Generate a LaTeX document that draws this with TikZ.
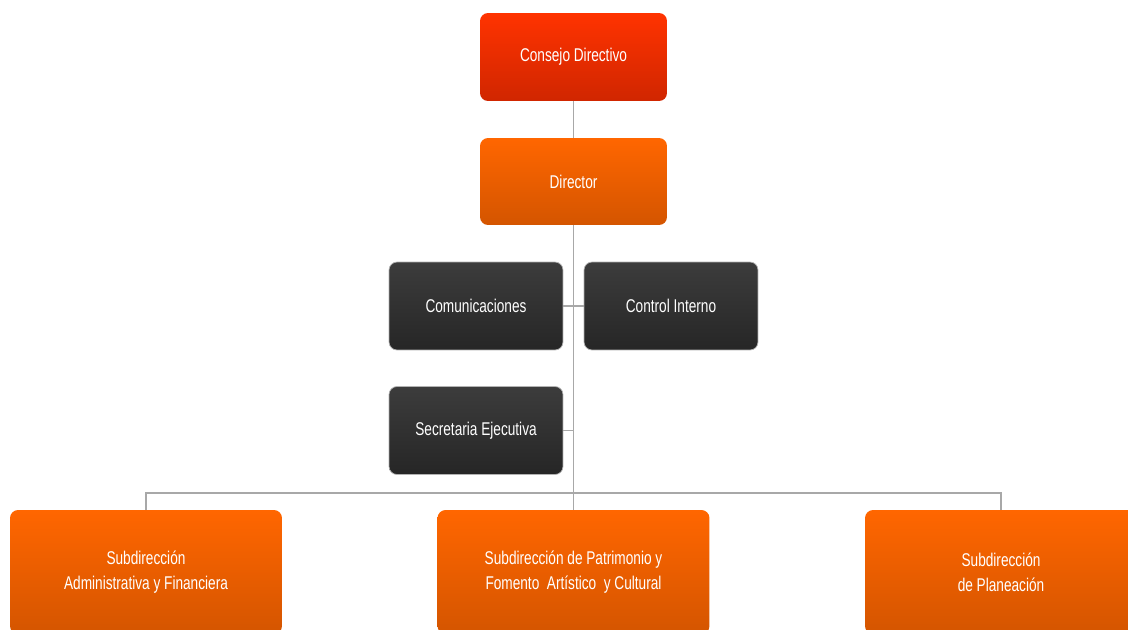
\documentclass[tikz,border=0pt]{standalone}
\usepackage{fontspec}
\setmainfont{Liberation Sans}[FakeStretch=0.74]
\usetikzlibrary{positioning}

\definecolor{redtop}{HTML}{FF3300}
\definecolor{redbot}{HTML}{D02600}
\definecolor{orangetop}{HTML}{FF6600}
\definecolor{orangebot}{HTML}{D45500}
\definecolor{darktop}{HTML}{3C3C3C}
\definecolor{darkbot}{HTML}{262626}
\definecolor{linkgray}{HTML}{A8A8A8}

\tikzset{
    box/.style={rectangle, rounded corners=0.16cm, text=white,
        font=\fontsize{10.5}{14}\selectfont, align=center, inner sep=0pt},
    redbox/.style={box, top color=redtop, bottom color=redbot,
        minimum width=3.74cm, minimum height=1.76cm},
    orangebox/.style={box, top color=orangetop, bottom color=orangebot,
        minimum width=3.74cm, minimum height=1.74cm},
    darkbox/.style={box, top color=darktop, bottom color=darkbot,
        draw=gray!60, line width=0.4pt,
        minimum width=3.48cm, minimum height=1.76cm},
    subbox/.style={box, top color=orangetop, bottom color=orangebot,
        minimum width=5.44cm, minimum height=2.48cm},
    link/.style={draw=linkgray, line width=1.1pt}
}

\begin{document}
\begin{tikzpicture}[x=0.02cm, y=-0.02cm]
    \clip (0,0) rectangle (1128,629);
    \fill[white] (0,0) rectangle (1128,629);

    % top of the chart
    \node[redbox] (cons) at (573.5,57) {Consejo Directivo};
    \node[orangebox] (dir) at (573.5,181.5) {Director};

    % staff offices
    \node[darkbox] (com) at (476,306) {Comunicaciones};
    \node[darkbox] (ctrl) at (671,306) {Control Interno};
    \node[darkbox] (sec) at (476,430.5) {Secretaria Ejecutiva};

    % subdirecciones
    \node[subbox] (adm) at (146,572) {Subdirección\\Administrativa y Financiera};
    \node[subbox] (pat) at (573.5,572) {Subdirección de Patrimonio y\\Fomento~ Artístico~ y Cultural};
    \node[subbox] (pla) at (1001,572) {Subdirección\\de Planeación};

    \coordinate (bar) at (573.5,493);

    \draw[link] (cons) -- (dir);
    \draw[link] (dir.south) -- (pat.north);
    \draw[link] (com.east) -- (ctrl.west);
    \draw[link] (sec.east) -- (sec.east -| dir.south);
    \draw[link] (adm.north) |- (bar) -| (pla.north);
\end{tikzpicture}
\end{document}
